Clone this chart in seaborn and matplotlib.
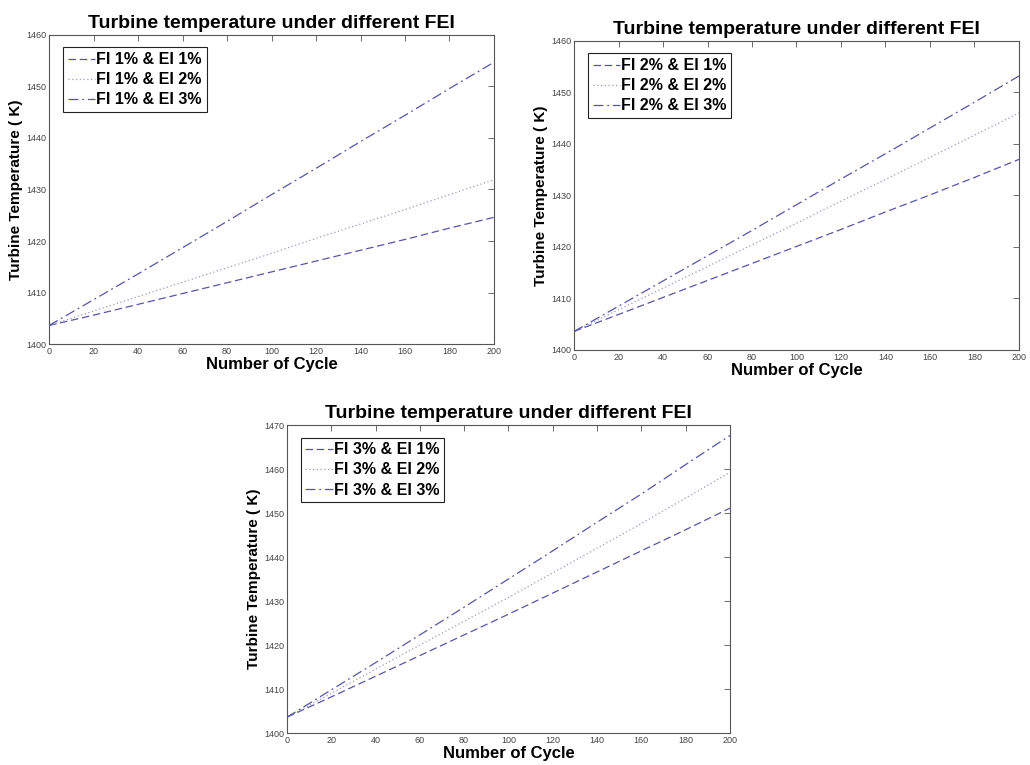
import matplotlib
matplotlib.use("Agg")
import matplotlib.pyplot as plt
import seaborn as sns
import pandas as pd
import numpy as np

sns.set_style("white")
plt.rcParams['font.family'] = ['Liberation Sans', 'DejaVu Sans']
plt.rcParams['text.color'] = 'black'
plt.rcParams['axes.labelcolor'] = 'black'

cycles = [0, 20, 40, 60, 80, 100, 120, 140, 160, 180, 200]

# FI 1%
fi1_ei1 = [1403.6, 1405.6, 1407.7, 1409.8, 1411.9, 1414.0, 1416.1, 1418.2, 1420.3, 1422.5, 1424.6]
fi1_ei2 = [1403.6, 1406.4, 1409.2, 1412.0, 1414.8, 1417.6, 1420.5, 1423.3, 1426.1, 1429.0, 1431.9]
fi1_ei3 = [1403.6, 1408.6, 1413.6, 1418.7, 1423.8, 1429.0, 1434.1, 1439.3, 1444.4, 1449.6, 1454.7]
# FI 2%
fi2_ei1 = [1403.6, 1406.9, 1410.2, 1413.5, 1416.8, 1420.1, 1423.4, 1426.8, 1430.1, 1433.5, 1437.0]
fi2_ei2 = [1403.6, 1407.8, 1412.0, 1416.2, 1420.4, 1424.6, 1428.9, 1433.1, 1437.4, 1441.7, 1446.0]
fi2_ei3 = [1403.6, 1408.5, 1413.4, 1418.3, 1423.2, 1428.2, 1433.2, 1438.1, 1443.1, 1448.1, 1453.2]
# FI 3%
fi3_ei1 = [1403.6, 1408.2, 1412.9, 1417.6, 1422.3, 1427.0, 1431.8, 1436.6, 1441.4, 1446.2, 1451.1]
fi3_ei2 = [1403.6, 1409.0, 1414.5, 1420.0, 1425.4, 1430.8, 1436.4, 1442.0, 1447.6, 1453.4, 1459.2]
fi3_ei3 = [1403.6, 1409.8, 1416.0, 1422.3, 1428.6, 1435.0, 1441.4, 1447.9, 1454.3, 1461.0, 1467.6]

labels1 = ["FI 1% & EI 1%", "FI 1% & EI 2%", "FI 1% & EI 3%"]
labels2 = ["FI 2% & EI 1%", "FI 2% & EI 2%", "FI 2% & EI 3%"]
labels3 = ["FI 3% & EI 1%", "FI 3% & EI 2%", "FI 3% & EI 3%"]

title = "Turbine temperature under different FEI"
xlabel = "Number of Cycle"
ylabel = "Turbine Temperature ( K)"

panels = [
    ([fi1_ei1, fi1_ei2, fi1_ei3], labels1, [0.0476, 0.5503, 0.432, 0.404], (1400, 1460), np.arange(1400, 1461, 10)),
    ([fi2_ei1, fi2_ei2, fi2_ei3], labels2, [0.5573, 0.5425, 0.432, 0.404], (1400, 1460), np.arange(1400, 1461, 10)),
    ([fi3_ei1, fi3_ei2, fi3_ei3], labels3, [0.2786, 0.0418, 0.430, 0.4026], (1400, 1470), np.arange(1400, 1471, 10)),
]

styles = [(0, (6, 3)), (0, (1, 2)), (0, (8, 3, 1.5, 3))]
colors = ["#5656a8", "#9a9ac8", "#5656a8"]

fig = plt.figure(figsize=(10.3, 7.65), dpi=100)

for series, labels, pos, ylim, yticks in panels:
    ax = fig.add_axes(pos)
    for vals, lab, ls, c in zip(series, labels, styles, colors):
        df = pd.DataFrame({"cycle": cycles, "temp": vals})
        sns.lineplot(data=df, x="cycle", y="temp", ax=ax, label=lab,
                     color=c, linestyle=ls, linewidth=0.9)
    ax.set_xlim(0, 200)
    ax.set_ylim(*ylim)
    ax.set_xticks(np.arange(0, 201, 20))
    ax.set_yticks(yticks)
    ax.tick_params(direction="in", length=4, width=0.6, labelsize=6.5,
                   labelcolor="#444444", color="#555555", top=True, right=True, pad=2)
    for sp in ax.spines.values():
        sp.set_color("#555555")
        sp.set_linewidth(0.8)
    ax.set_title(title, fontsize=14, fontweight="bold", pad=5, color="black")
    ax.set_xlabel(xlabel, fontsize=12, fontweight="bold", labelpad=1, color="black")
    ax.set_ylabel(ylabel, fontsize=11, fontweight="bold", labelpad=2, color="black")
    leg = ax.legend(loc="upper left", bbox_to_anchor=(0.02, 0.975), fancybox=False,
                    edgecolor="#222222", framealpha=1,
                    prop={"weight": "bold", "size": 11.5},
                    handlelength=1.7, handletextpad=0.1, borderpad=0.3,
                    labelspacing=0.32, borderaxespad=0.3)
    leg.get_frame().set_linewidth(0.8)
    for t in leg.get_texts():
        t.set_color("black")

fig.savefig("out.png", dpi=100)
